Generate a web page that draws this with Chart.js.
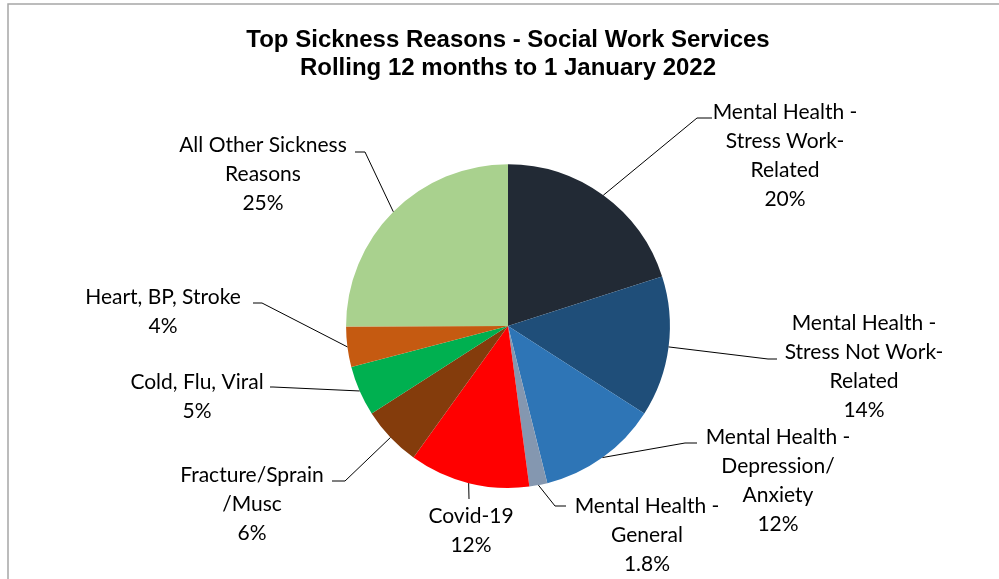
<!DOCTYPE html>
<html>
<head>
<meta charset="utf-8">
<script src="https://cdn.jsdelivr.net/npm/chart.js@4.4.0/dist/chart.umd.min.js"></script>
<style>
  html, body { margin: 0; padding: 0; background: #fff; }
  #wrap { width: 999px; height: 579px; }
</style>
</head>
<body>
<div id="wrap"><canvas id="myChart"></canvas></div>
<script>
const titleLines = ['Top Sickness Reasons - Social Work Services', 'Rolling 12 months to 1 January 2022'];

const categories = [
  'Mental Health - Stress Work-Related',
  'Mental Health - Stress Not Work-Related',
  'Mental Health - Depression/Anxiety',
  'Mental Health - General',
  'Covid-19',
  'Fracture/Sprain/Musc',
  'Cold, Flu, Viral',
  'Heart, BP, Stroke',
  'All Other Sickness Reasons'
];

// how each category name is wrapped on the chart
const labelLines = [
  ['Mental Health -', 'Stress Work-', 'Related'],
  ['Mental Health -', 'Stress Not Work-', 'Related'],
  ['Mental Health -', 'Depression/', 'Anxiety'],
  ['Mental Health -', 'General'],
  ['Covid-19'],
  ['Fracture/Sprain', '/Musc'],
  ['Cold, Flu, Viral'],
  ['Heart, BP, Stroke'],
  ['All Other Sickness', 'Reasons']
];

const values = [20, 14, 12, 1.8, 12, 6, 5, 4, 25];

const colors = ['#222a35', '#1f4e79', '#2e75b6', '#8497b0', '#ff0000', '#843c0c', '#00b050', '#c55a11', '#a9d18e'];

// where each label sits: text centre x, first line y, leader elbow and end
const labelLayout = [
  {x: 785, y: 112, elbow: [697, 118], end: [712, 118]},
  {x: 864, y: 323, elbow: [768, 359], end: [777, 359]},
  {x: 778, y: 437, elbow: [685, 443], end: [697, 443]},
  {x: 647, y: 506, elbow: [555, 506], end: [566, 506]},
  {x: 471, y: 516, elbow: [469, 499], end: [469, 499]},
  {x: 252, y: 475, elbow: [345, 481], end: [332, 481]},
  {x: 197, y: 382, elbow: [273, 387], end: [270, 387]},
  {x: 163, y: 297, elbow: [262, 303], end: [253, 303]},
  {x: 263, y: 145, elbow: [365, 152], end: [355, 152]}
];

const frame = {
  id: 'frame',
  beforeDraw(chart) {
    const c = chart.ctx;
    c.save();
    c.strokeStyle = '#a6a6a6';
    c.lineWidth = 1.5;
    c.beginPath();
    c.moveTo(chart.width, 4);
    c.lineTo(8, 4);
    c.lineTo(8, chart.height);
    c.stroke();
    c.restore();
  }
};

const sliceLabels = {
  id: 'sliceLabels',
  afterDatasetsDraw(chart) {
    const c = chart.ctx;
    const arcs = chart.getDatasetMeta(0).data;
    c.save();
    c.strokeStyle = '#000';
    c.lineWidth = 1;
    c.fillStyle = '#000';
    c.font = '21px Lato';
    c.textAlign = 'center';
    c.textBaseline = 'middle';
    arcs.forEach(function(arc, i) {
      const mid = (arc.startAngle + arc.endAngle) / 2;
      const sx = arc.x + Math.cos(mid) * arc.outerRadius;
      const sy = arc.y + Math.sin(mid) * arc.outerRadius;
      const L = labelLayout[i];
      c.beginPath();
      c.moveTo(sx, sy);
      c.lineTo(L.elbow[0], L.elbow[1]);
      c.lineTo(L.end[0], L.end[1]);
      c.stroke();
      const lines = labelLines[i].concat([values[i] + '%']);
      lines.forEach(function(t, k) {
        c.fillText(t, L.x, L.y + k * 29);
      });
    });
    c.restore();
  }
};

new Chart(document.getElementById('myChart'), {
  type: 'pie',
  data: {
    labels: categories,
    datasets: [{
      data: values,
      backgroundColor: colors,
      borderWidth: 0
    }]
  },
  options: {
    responsive: true,
    maintainAspectRatio: false,
    animation: false,
    layout: {
      padding: {left: 17, right: 0, top: 0, bottom: 91}
    },
    plugins: {
      legend: {display: false},
      tooltip: {enabled: false},
      title: {
        display: true,
        text: titleLines,
        color: '#000',
        font: {family: 'Liberation Sans', size: 24, weight: 'bold', lineHeight: 1.17},
        padding: {top: 26, bottom: 82}
      }
    }
  },
  plugins: [frame, sliceLabels]
});
</script>
</body>
</html>
